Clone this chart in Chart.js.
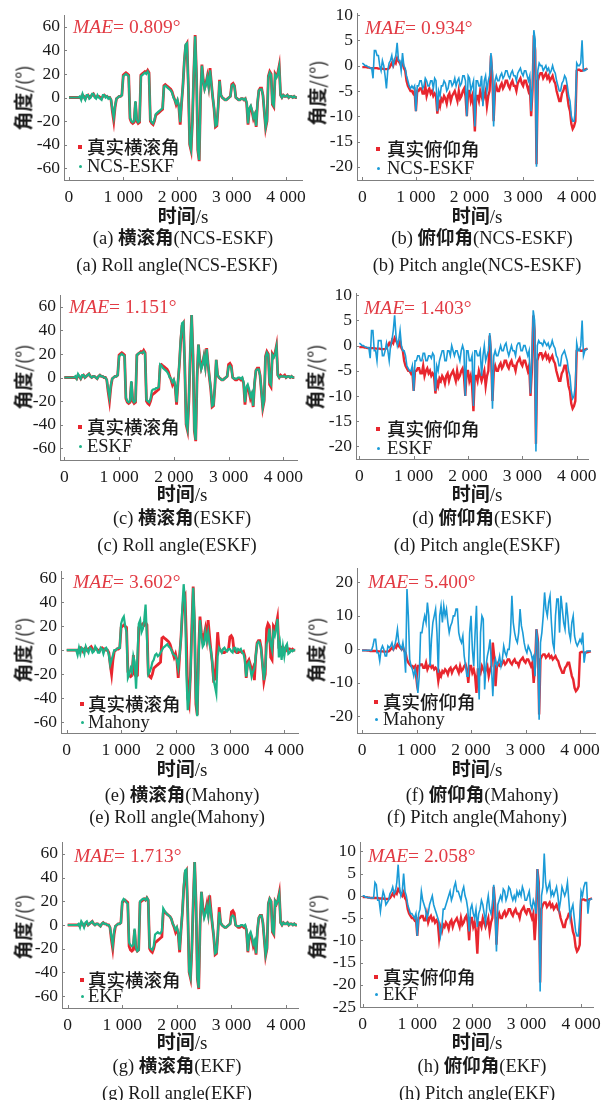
<!DOCTYPE html>
<html><head><meta charset="utf-8">
<script src="https://cdn.jsdelivr.net/npm/chart.js@4.4.0/dist/chart.umd.min.js"></script>
<style>
html,body{margin:0;padding:0;background:#fff;}
body{width:613px;height:1100px;position:relative;overflow:hidden;font-family:"Liberation Serif","Noto Sans CJK SC",serif;color:#1a1a1a;}
canvas{position:absolute;}
.t{position:absolute;white-space:nowrap;line-height:1;}
.c{transform:translate(-50%,-50%);}
.l{transform:translate(0,-50%);}
.r{transform:translate(-50%,-50%) rotate(-90deg);}
.cjk{font-family:"Noto Sans CJK SC",sans-serif;}
.mae{color:#e23b44;font-size:19.5px;}
.leg{font-size:18.5px;}
.cap{font-size:18.5px;}
.ttl{font-size:19px;}
.mk{position:absolute;}
</style></head><body>
<script>
// ---------------- data (time step 25 s) ----------------
const times = [
  0,25,50,75,100,125,150,175,200,225,250,275,300,325,350,375,400,425,450,475,
  500,525,550,575,600,625,650,675,700,725,750,775,800,825,850,875,900,925,950,975,
  1000,1025,1050,1075,1100,1125,1150,1175,1200,1225,1250,1275,1300,1325,1350,1375,1400,1425,1450,1475,
  1500,1525,1550,1575,1600,1625,1650,1675,1700,1725,1750,1775,1800,1825,1850,1875,1900,1925,1950,1975,
  2000,2025,2050,2075,2100,2125,2150,2175,2200,2225,2250,2275,2300,2325,2350,2375,2400,2425,2450,2475,
  2500,2525,2550,2575,2600,2625,2650,2675,2700,2725,2750,2775,2800,2825,2850,2875,2900,2925,2950,2975,
  3000,3025,3050,3075,3100,3125,3150,3175,3200,3225,3250,3275,3300,3325,3350,3375,3400,3425,3450,3475,
  3500,3525,3550,3575,3600,3625,3650,3675,3700,3725,3750,3775,3800,3825,3850,3875,3900,3925,3950,3975,
  4000,4025,4050,4075,4100,4125,4150,4175,4200];

const rollTrue = [
  0,0,0,0,0,0,0,0,0,-1,2,1,-1,1,2,0,1,2,3,1,
  0,1,1,0,-1,1,2,1,1,0,0,-2,-12,-20,-8,-1,0,1,1,2,
  19,20,21,20,19,-18,-21,-22,-21,-4,-20,-22,-21,19,20,21,22,21,23,21,
  -20,-22,-23,-20,-15,-14,-13,-12,-11,-10,10,11,10,9,8,7,5,1,-2,-6,
  -3,-8,-23,-5,10,30,44,46,10,-40,-45,-20,20,53,20,-45,-54,0,28,15,
  8,12,18,10,25,12,0,-10,-25,-24,-8,15,2,0,-1,-2,-2,-1,0,1,
  11,12,10,0,-1,-2,-2,-1,-1,-2,-1,-5,-23,-10,-8,-12,-18,-15,-25,-5,
  6,8,8,2,-12,-26,-20,18,22,20,-6,-8,20,18,21,27,2,0,2,1,
  1,2,0,1,1,0,1,0,0];
const rollNcsEskf = [
  0,0,0,0,0,0,0,0,1,-2,3,0,-2,2,2,-1,0,3,3,0,
  -1,2,0,-1,-2,2,2,0,1,-1,0,-2,-10,-17,-7,-1,0,1,1,2,
  18,19,20,19,18,-17,-20,-21,-20,-3,-19,-21,-20,18,19,20,21,20,22,20,
  -19,-21,-22,-19,-14,-13,-12,-11,-10,-9,9,10,9,8,7,6,4,0,-2,-5,
  -2,-7,-21,-4,10,31,45,46,9,-39,-44,-19,21,52,19,-44,-53,1,27,14,
  7,11,17,9,23,11,0,-9,-24,-23,-7,14,2,0,-1,-2,-2,-1,0,1,
  10,11,9,0,-1,-2,-2,-1,-1,-2,-1,-4,-22,-9,-7,-11,-17,-14,-24,-4,
  6,7,7,2,-11,-25,-19,17,21,19,-5,-7,19,17,20,26,2,0,2,1,
  1,2,0,1,1,0,1,0,0];
const rollEskf = [
  0,0,0,0,0,0,0,0,1,-1,3,1,-1,2,2,0,1,2,3,1,
  0,1,1,0,-1,1,2,1,1,0,0,-2,-10,-17,-6,-1,0,1,1,2,
  18,19,20,19,18,-17,-20,-21,-20,-3,-19,-21,-20,19,20,21,21,21,22,20,
  -19,-20,-21,-18,-11,-10,-10,-9,-9,-8,11,10,8,7,6,5,3,0,-1,-4,
  -2,-6,-21,-4,11,32,46,47,9,-39,-44,-19,21,53,19,-44,-53,1,28,14,
  7,11,18,9,24,11,1,-9,-24,-23,-7,15,2,0,-1,-2,-2,-1,0,1,
  9,10,8,0,-1,-1,-1,0,0,-1,0,-4,-21,-8,-6,-10,-16,-13,-24,-4,
  6,7,7,2,-11,-25,-19,17,21,19,-4,-6,19,17,20,26,2,0,1,1,
  1,1,0,1,1,0,1,0,0];
const rollMahony = [
  0,0,0,0,0,0,0,0,-4,2,-3,2,1,-3,3,0,-2,2,1,-2,
  -1,3,1,-2,-2,2,1,-3,1,2,0,-4,-12,-8,-4,0,0,1,2,2,
  22,26,28,20,15,-23,-20,-15,-18,-5,-10,-32,-5,22,25,15,18,25,38,10,
  -20,-18,-15,-10,-8,-4,-3,-5,-4,-2,0,2,3,4,5,3,2,0,-3,-4,
  -5,-8,-15,-5,10,35,55,40,-20,-50,-40,-20,15,52,25,-40,-55,-5,25,12,
  3,5,15,8,15,5,0,-10,-25,-30,-36,-5,2,0,-2,1,2,0,-1,1,
  1,-1,-2,2,2,-1,1,0,1,-2,-3,-8,-22,-12,-10,-15,-22,-18,-15,-5,
  5,7,6,0,-12,-25,-15,5,8,18,5,0,15,12,18,26,-6,4,-8,3,
  -5,3,5,-3,-2,0,-1,0,0];
const rollEkf = [
  0,0,0,0,0,0,0,0,1,-2,3,1,-2,2,3,0,1,2,3,1,
  0,1,1,0,-1,1,2,1,1,0,0,-2,-10,-17,-5,-1,0,1,1,2,
  20,22,21,19,18,-15,-17,-18,-17,-3,-19,-22,-21,20,21,22,22,21,23,21,
  -19,-20,-21,-18,-8,-7,-6,-7,-7,-5,14,12,10,9,8,7,5,1,-1,-4,
  -2,-6,-21,-4,11,32,46,47,9,-39,-44,-19,21,53,19,-44,-53,1,28,14,
  6,10,16,8,19,10,1,-9,-24,-23,-7,11,2,0,-1,-2,-2,-1,0,1,
  7,8,7,0,-1,-1,-1,0,0,-1,0,-4,-22,-8,-6,-10,-16,-13,-24,-4,
  6,8,8,2,-11,-25,-19,18,22,20,-5,-7,20,18,21,26,2,0,2,1,
  1,2,0,1,1,0,1,0,0];

const pitchTrue = [
  -0.3,-0.3,-0.3,-0.3,-0.4,-0.4,-0.5,-0.5,-0.5,-0.5,-0.5,-0.5,-0.6,-0.6,-0.6,-0.6,-0.7,-0.7,-0.7,-0.7,
  -0.5,0,0.5,0,1,0.5,1.5,1,0.5,0,0.8,-0.5,-1,-3,-4,-4.5,-5,-5,-5.5,-5,
  -9,-5,-5,-4.5,-4.5,-5.5,-5.5,-4,-6,-5,-4.5,-5.5,-5,-6,-5.5,-6,-9.5,-7,-8,-6.5,
  -7,-6,-6.5,-7.5,-6,-5.5,-7,-6,-5.5,-5,-6,-7,-5,-6.5,-6,-5,-4.5,-6,-10,-5,
  -5,-7,-6,-8,-13,-6,-6,-7,-5,-6,-7,-6,-5,-8,-6,-5,2,-2,-11,-5,
  -4,-5,-5,-4,-3.5,-4.5,-4,-3,-3,-4,-4.5,-3.5,-3,-4,-4,-5,-3.5,-3,-2.5,-3.5,
  -4,-3,-3,-4,-5,-4,-10,-5,6,3,-19.5,-3,-2,-1.5,-1.5,-2.5,-2,-1.5,-2.5,-2,
  -3,-2.5,-2,-3,-3.5,-5,-6,-7,-7,-5.5,-5,-4,-4,-6,-8,-9,-11.5,-12.5,-12,-11,
  -1,-0.8,-0.8,-1,-1,-0.9,-0.8,-0.7,-0.6];
const pitchNcsEskf = [
  0.5,0.3,0,0,-0.2,-0.3,-0.5,-0.5,-2.5,3,3,2,2,0,-1,1,0,-2,-4.5,-1,
  0.5,1,2,0,1,2,4.5,1,1,-1,2.5,0,-0.5,-2,-3,-4,-4.5,-4,-4.5,-4,
  -9,-4,-4,-3,-3,-4.5,-4,-2.5,-3,-4,-4,-3,-3,-4.5,-2.5,-3,-9,-5,-6,-4,
  -4,-3,-3.5,-5,-4.5,-3,-3,-4,-3.5,-2.5,-4,-3,-2.5,-4,-3.5,-2,-2,-3,-10,-2,
  -2.5,-5,-4,-3,-12,-3,-3,-4,-4,-2,-8,-3,-2,-5,-3,-2,2.5,-1,-12,-3,
  -2,-3,-3,-2,-1.5,-2.5,-2,-1,-1,-2,-2.5,-1.5,-1,-2,-2,-3,-1.5,-1,-0.5,-1.5,
  -2,-1,-1,-2,-3,-2,-9,-4,7,5,-20,-1,0.5,0,0,-1,-0.5,0,-1,-0.5,
  -1.5,-1,0,-1,-1.5,-3,-4,-5,-5,-3.5,-3,-2,-2.5,-4,-6,-7,-10,-11,-11,-9,
  0.5,0,0,0.5,5,-1,-1,-0.8,-0.6];
const pitchEskf = [
  0.5,0.3,0,0,-0.2,-0.3,-0.4,-0.4,-2.5,3,3,-1,-1,-3,1,1,1,-2,-2,-1,
  0.5,-1,-3,0,1,3,6,2,0,1,3,0,-1,-1,-2,-4,-4.5,-5,-5,-4,
  -9,-3,-3,-2,-2,-3,-3,-1.5,-1.5,-3,-3,-2,-2,-2.5,-1.5,-2,-9,-4,-5,-3,
  -2,-1,-1,-3,-3,-1,-1,-2,0,-1,-2,-1,-1,-2,-3,-1,0,-1,-10,-1,
  -1,-3,-3,-2,-12,-1,-1,-2,-2,-1,-6,-2,0,-3,-2,-1,2.5,-1,-12.5,-2,
  -1,-2,-2,-1,0,-1,-1,0,0.5,-1,-2,-1,0,-1,-1,-2,0,0.5,0.5,-1,
  -1,0,0,-1,-2,-1,-9.5,-3,7,5,-21,0,1,0.5,0.5,0,1,0.5,0,0.5,
  -0.5,0,1,0,-0.5,-2,-2.5,-4,-4,-2,-1.5,-1,-2,-3,-5,-6,-9,-10.5,-10,-8,
  0.5,-1,-1,0,5,-2,-1,-0.8,-0.6];
const pitchMahony = [
  -0.3,-0.3,-0.3,-0.3,-0.3,-0.3,-0.3,-0.3,1,3,3,-1,-1,-3.5,0,1,0,-2,-2,1,
  0.5,1,2,0,1,3,6,2,1,0,2,-1,-7,18,10,-3,-5,-6,-8,-6,
  -8,-13,-8,5,5,8,10,8,14,10,-5,3,8,10,12,5,-7,10,13,8,
  13,10,12,8,5,7,8,10,10,12,12,5,3,2,4,-2,-5,-8,-8,5,
  10,0,-5,5,13,-5,-15,5,10,9,-12,-5,-2,0,3,-5,-14,-5,-3,-5,
  -4,-2,-5,-3,1,-1,-2,0,0,5,16,8,5,3,2,5,12,7,5,2,
  0,-1,1,0,-1,-3,-2,-8,6,2,-21,2,5,10,17,12,10,14,16,8,
  2,0,10,15,15,5,16,12,8,6,14,10,5,3,8,10,4,2,1,2,
  3,2,5,-4,-1,-0.5,-0.5,-0.5,-0.5];
const pitchEkf = [
  0,0,-0.3,-0.3,-0.4,-0.4,-0.5,-0.5,-0.5,3,2.5,-1,-1,-3.5,-1,1,0,-2,-1.5,-1,
  0.5,1,2,0.5,1,3,7,2,0,1,5,1,0,-2,-3,-4,-4,-4.5,-5,-4,
  -9,-4,-3,1,-1,-2,-3,-5,-4,-2,-1,0,-2,-3,-4,-5,-6,-9,-7,-3,
  -3,-2,-1,0,1,-1,0,2,3,1,1,0,-1,1,2,0,-1,-3,-8,-3,
  -2,-4,-5,-3,-7,-4,-3,-1,-2,-4,-6,-2,0,-3,-4,-2,2.5,-3,-12.5,-2,
  -1,0,-1,1.5,1,-1,0,2,1.5,0,-1,0,-1,1,0,1,0,2,1,-1,
  -1,0,1,-2,-3,-1,-2,-4,6,2,-21.5,0,2,9.5,3,1,2,3,0,1,
  0,1,2,0,-3,-1,2,1,0,1,3,-1,-5,-3,-2,-5,-8,-9,-9,-5,
  1,0,2,3,3,-4,-1,-0.8,-0.6];

const xTicks = [0,1000,2000,3000,4000];
const xTickLabels = ["0","1 000","2 000","3 000","4 000"];
const rollTicks = [-60,-40,-20,0,20,40,60];
const pitchTicks = [-20,-15,-10,-5,0,5,10];
const pitchTicksMahony = [-20,-10,0,10,20];
const pitchTicksEkf = [-25,-20,-15,-10,-5,0,5,10];
const maeValues = ["0.809","0.934","1.151","1.403","3.602","5.400","1.713","2.058"];
const methods = ["NCS-ESKF","NCS-ESKF","ESKF","ESKF","Mahony","Mahony","EKF","EKF"];
const letters = ["a","b","c","d","e","f","g","h"];

// ---------------- styles / layout ----------------
const RED = '#e8262e', GREEN = '#1db388', BLUE = '#1b9bd7', AX = '#7f7f7f';

const panels = [
 {L:64,T:15,R:302,B:180, xmin:-92,xmax:4295, ymin:-70,ymax:70, ticks:rollTicks, truth:rollTrue, est:rollNcsEskf, col:GREEN, roll:true,
  mae:[73,27], leg:[80,87,147,166], yt:[23,98], xt:[183,215], cap:[183,237,177,265]},
 {L:357,T:13,R:593,B:180, xmin:-99,xmax:4304, ymin:-22.6,ymax:10.4, ticks:pitchTicks, truth:pitchTrue, est:pitchNcsEskf, col:BLUE, roll:false,
  mae:[365,28], leg:[378,387,149,168], yt:[317,93], xt:[477,215], cap:[482,237,477,265]},
 {L:60,T:295,R:297,B:460, xmin:-79,xmax:4250, ymin:-70,ymax:70, ticks:rollTicks, truth:rollTrue, est:rollEskf, col:GREEN, roll:true,
  mae:[69,307], leg:[80,87,427,446], yt:[23,377], xt:[182,493], cap:[182,517,177,545]},
 {L:356,T:293,R:588,B:459, xmin:-61,xmax:4208, ymin:-22.5,ymax:10.45, ticks:pitchTicks, truth:pitchTrue, est:pitchEskf, col:BLUE, roll:false,
  mae:[364,308], leg:[378,387,429,448], yt:[315,377], xt:[477,493], cap:[482,517,477,545]},
 {L:61,T:571,R:298,B:733, xmin:-105,xmax:4252, ymin:-69,ymax:66, ticks:rollTicks, truth:rollTrue, est:rollMahony, col:GREEN, roll:true,
  mae:[73,582], leg:[82,88,704,722], yt:[23,650], xt:[182,768], cap:[182,794,177,817]},
 {L:357,T:568,R:595,B:733, xmin:-92,xmax:4275, ymin:-25,ymax:24.3, ticks:pitchTicksMahony, truth:pitchTrue, est:pitchMahony, col:BLUE, roll:false,
  mae:[368,582], leg:[376,383,702,719], yt:[316,650], xt:[477,768], cap:[482,794,477,817]},
 {L:62,T:842,R:298,B:1008, xmin:-104,xmax:4218, ymin:-70,ymax:70, ticks:rollTicks, truth:rollTrue, est:rollEkf, col:GREEN, roll:true,
  mae:[74,856], leg:[82,88,980,996], yt:[23,927], xt:[182,1041], cap:[177,1065,177,1093]},
 {L:360,T:842,R:593,B:1007, xmin:-49,xmax:4218, ymin:-25,ymax:12.1, ticks:pitchTicksEkf, truth:pitchTrue, est:pitchEkf, col:BLUE, roll:false,
  mae:[368,856], leg:[376,383,977,994], yt:[317,927], xt:[477,1041], cap:[482,1065,477,1093]}
];

const innerTicks = {
  id:'innerTicks',
  afterDraw(c){
    const ctx=c.ctx, a=c.chartArea, xs=c.scales.x, ys=c.scales.y;
    ctx.save(); ctx.strokeStyle=AX; ctx.lineWidth=1;
    xs.ticks.forEach(t=>{const x=Math.round(xs.getPixelForValue(t.value))+0.5;
      ctx.beginPath(); ctx.moveTo(x,a.bottom); ctx.lineTo(x,a.bottom-3); ctx.stroke();});
    ys.ticks.forEach(t=>{const y=Math.round(ys.getPixelForValue(t.value))+0.5;
      ctx.beginPath(); ctx.moveTo(a.left,y); ctx.lineTo(a.left+3,y); ctx.stroke();});
    ctx.restore();
  }
};

function addText(x,y,html,cls){
  const d=document.createElement('div'); d.className='t '+cls; d.style.left=x+'px'; d.style.top=y+'px';
  d.innerHTML=html; document.body.appendChild(d); return d;
}
function addMarker(x,y,w,h,col,round){
  const d=document.createElement('div'); d.className='mk';
  d.style.left=(x-w/2)+'px'; d.style.top=(y-h/2)+'px'; d.style.width=w+'px'; d.style.height=h+'px';
  d.style.background=col; if(round) d.style.borderRadius='50%'; document.body.appendChild(d);
}

const padL=60, padT=20, padR=40, padB=40;
panels.forEach((p,k)=>{
  const cv=document.createElement('canvas');
  const w=p.R-p.L+padL+padR, h=p.B-p.T+padT+padB;
  cv.width=w; cv.height=h; cv.style.width=w+'px'; cv.style.height=h+'px';
  cv.style.left=(p.L-padL)+'px'; cv.style.top=(p.T-padT)+'px';
  document.body.appendChild(cv);
  const tickFont={family:'Liberation Serif', size:17.5};
  new Chart(cv,{
    type:'line',
    data:{datasets:[
      {data:times.map((t,i)=>({x:t,y:p.est[i]})), borderColor:p.col, borderWidth:p.roll?2.2:1.6, pointRadius:0, tension:0},
      {data:times.map((t,i)=>({x:t,y:p.truth[i]})), borderColor:RED, borderWidth:p.roll?2.8:2.4, pointRadius:0, tension:0}
    ]},
    options:{
      responsive:false, animation:false, devicePixelRatio:1,
      layout:{padding:{left:0,top:padT,right:padR,bottom:0}},
      plugins:{legend:{display:false}, tooltip:{enabled:false}},
      scales:{
        x:{type:'linear', min:p.xmin, max:p.xmax,
           afterFit:s=>{s.height=padB;},
           afterBuildTicks:s=>{s.ticks=xTicks.map(v=>({value:v}));},
           grid:{display:false, drawTicks:false}, border:{display:true,color:AX,width:1},
           ticks:{padding:7, color:'#1a1a1a', font:tickFont, maxRotation:0, autoSkip:false,
                  callback:(v,i)=>xTickLabels[i]}},
        y:{type:'linear', min:p.ymin, max:p.ymax,
           afterFit:s=>{s.width=padL;},
           afterBuildTicks:s=>{s.ticks=p.ticks.map(v=>({value:v}));},
           grid:{display:false, drawTicks:false}, border:{display:true,color:AX,width:1},
           ticks:{padding:4, color:'#1a1a1a', font:tickFont, autoSkip:false,
                  callback:(v)=>String(v)}}
      }
    },
    plugins:[innerTicks]
  });
  addText(p.mae[0],p.mae[1],'<i>MAE</i>= '+maeValues[k]+'°','l mae');
  const trueName = p.roll ? '真实横滚角' : '真实俯仰角';
  addMarker(p.leg[0],p.leg[2],4,4,RED,false);
  addMarker(p.leg[0],p.leg[3],3,3,p.col,true);
  addText(p.leg[1],p.leg[2],'<span class="cjk" style="font-weight:500">'+trueName+'</span>','l leg');
  addText(p.leg[1],p.leg[3],methods[k],'l leg');
  addText(p.yt[0],p.yt[1],'<span class="cjk" style="font-weight:600">角度</span><span class="cjk">/(°)</span>','r ttl');
  addText(p.xt[0],p.xt[1],'<span class="cjk" style="font-weight:600">时间</span>/s','c ttl');
  const cn = p.roll ? '横滚角' : '俯仰角';
  const en = p.roll ? 'Roll angle' : 'Pitch angle';
  addText(p.cap[0],p.cap[1],'('+letters[k]+') <span class="cjk" style="font-weight:600">'+cn+'</span>('+methods[k]+')','c cap');
  addText(p.cap[2],p.cap[3],'('+letters[k]+') '+en+'('+methods[k]+')','c cap');
});
</script>
</body></html>
